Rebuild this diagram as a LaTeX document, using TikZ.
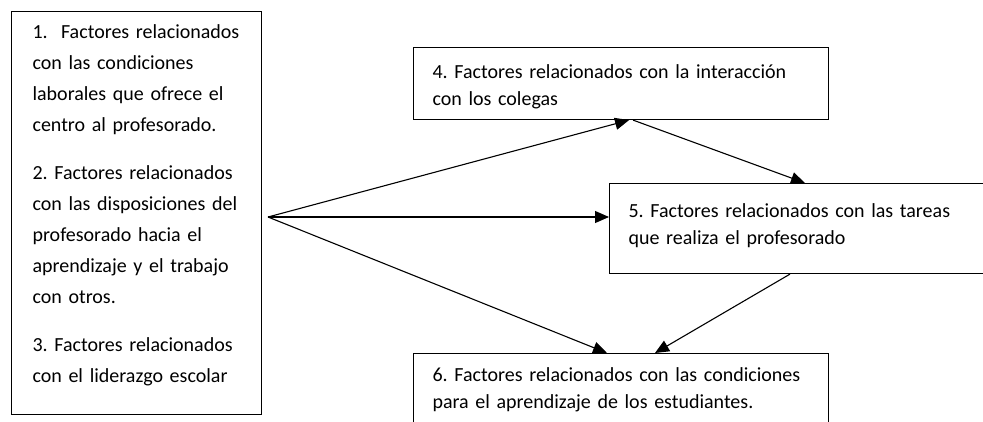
\documentclass[tikz,border=0pt]{standalone}
\usepackage{fontspec}
\setmainfont{Carlito}
\usepackage{tikz}
\usetikzlibrary{arrows.meta,positioning}
\frenchspacing

\begin{document}
\begin{tikzpicture}[x=1pt,y=-1pt,
  factor/.style={draw,line width=1.1pt,anchor=north west,align=left,inner xsep=19pt,inner ysep=0pt,font=\fontsize{20}{27}\selectfont},
  arrow/.style={-{Triangle[length=14pt,width=12pt]},line width=1.1pt}
]
\clip (0,0) rectangle (983,421);
\fill[white] (0,0) rectangle (983,421);
\node[factor,text width=208pt,inner xsep=21pt,text height=27pt,text depth=376pt,font=\fontsize{20}{31}\selectfont] (grupos) at (11,11) {1.\ \ Factores relacionados\\ con las condiciones\\ laborales que ofrece el\\ centro al profesorado.\\[17pt] 2. Factores relacionados\\ con las disposiciones del\\ profesorado hacia el\\ aprendizaje y el trabajo\\ con otros.\\[17pt] 3. Factores relacionados\\ con el liderazgo escolar};
\node[factor,text width=377pt,text height=31pt,text depth=41pt] (colegas) at (413,47) {4. Factores relacionados con la interacción\\ con los colegas};
\node[factor,text width=362pt,text height=34pt,text depth=56pt] (tareas) at (609,183) {5. Factores relacionados con las tareas\\ que realiza el profesorado};
\node[factor,text width=377pt,text height=28pt,text depth=80pt] (aprendizaje) at (413,353) {6. Factores relacionados con las condiciones\\ para el aprendizaje de los estudiantes.};
\coordinate (hub) at (268,217);
\draw[arrow] (hub) -- ([xshift=8pt]colegas.south);
\draw[arrow] ([xshift=12pt]colegas.south) -- ([xshift=196pt]tareas.north west);
\draw[arrow] (hub) -- (hub -| tareas.west);
\draw[arrow] (hub) -- ([xshift=194pt]aprendizaje.north west);
\draw[arrow] ([xshift=181pt]tareas.south west) -- ([xshift=242pt]aprendizaje.north west);
\end{tikzpicture}
\end{document}
